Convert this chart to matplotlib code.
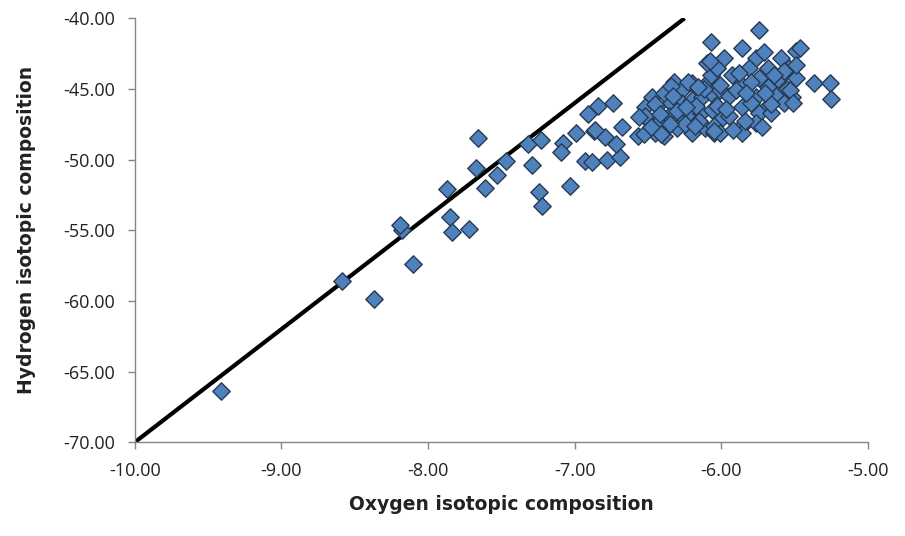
import matplotlib
matplotlib.use("Agg")
import matplotlib.pyplot as plt

# Oxygen (x) and Hydrogen (y) isotopic composition samples
oxygen = [
    -9.41, -8.59, -8.37, -8.10, -8.18, -8.19, -7.87, -7.85, -7.84, -7.72,
    -7.67, -7.66, -7.61, -7.53, -7.47, -7.32, -7.29, -7.23, -7.24, -7.22,
    -7.03, -7.08, -7.09, -6.99, -6.93, -6.88, -6.87, -6.79, -6.78, -6.69,
    -6.72, -6.91, -6.84, -6.74, -6.86, -6.68,
    # cluster
    -6.32, -6.47, -6.39, -6.26, -6.20, -6.09, -6.07, -6.03, -6.10, -6.52,
    -6.44, -6.34, -6.27, -6.20, -6.13, -6.07, -6.01, -6.50, -6.43, -6.36,
    -6.28, -6.22, -6.14, -6.06, -6.57, -6.45, -6.39, -6.30, -6.20, -6.11,
    -6.05, -6.00,
    -5.74, -6.07, -5.86, -5.49, -5.59, -5.76, -5.98, -5.81, -5.68, -5.54,
    -6.03, -5.93, -5.74, -5.61, -5.49, -6.01, -5.86, -5.68, -5.55, -5.95,
    -5.76, -5.63, -5.52, -6.03, -5.86, -5.68, -5.57, -5.95, -5.74, -5.66,
    -6.05, -5.86, -5.76, -6.01, -5.86,
    -5.46, -5.49, -5.37, -5.26, -5.25, -5.53, -5.51, -5.57,
    -6.08, -5.84, -6.05, -6.53, -6.41, -6.52, -6.45, -6.34, -6.23, -5.66,
    -6.17, -5.90, -5.80, -5.70, -6.15, -5.92, -5.80, -5.64, -6.25, -5.97,
    -5.83, -5.72, -6.30, -6.12, -5.88, -5.71,
    -6.48, -6.42, -6.35, -6.24, -6.18, -6.56, -6.33, -6.16,
]
hydrogen = [
    -66.4, -58.6, -59.9, -57.4, -55.0, -54.6, -52.1, -54.1, -55.1, -54.9,
    -50.6, -48.5, -52.0, -51.1, -50.1, -48.9, -50.4, -48.6, -52.3, -53.3,
    -51.9, -48.8, -49.5, -48.1, -50.1, -50.2, -48.0, -48.4, -50.0, -49.8,
    -48.9, -46.8, -46.2, -46.0, -47.9, -47.7,
    # cluster
    -44.5, -45.6, -45.3, -45.0, -44.6, -44.5, -44.0, -43.5, -43.2, -46.3,
    -46.2, -46.0, -46.0, -45.8, -45.6, -45.3, -45.1, -47.2, -47.4, -46.9,
    -47.1, -46.7, -46.7, -46.5, -48.3, -48.1, -48.3, -47.8, -48.1, -47.8,
    -48.1, -47.1,
    -40.85, -41.7, -42.1, -42.3, -42.8, -42.8, -42.8, -43.5, -43.5, -43.5,
    -43.5, -44.0, -44.2, -44.3, -44.2, -44.75, -44.75, -44.9, -45.0, -45.5,
    -45.6, -45.5, -45.6, -46.2, -46.3, -46.2, -46.0, -46.9, -46.7, -46.7,
    -47.6, -47.6, -47.4, -48.1, -48.1,
    -42.1, -43.3, -44.6, -44.6, -45.7, -45.1, -46.0, -43.7,
    -43.0, -47.3, -48.0, -48.2, -48.2, -46.9, -46.1, -44.8, -44.5, -46.1,
    -46.2, -45.1, -46.0, -45.3, -47.3, -47.9, -44.5, -44.0, -47.5, -46.4,
    -45.3, -47.7, -46.6, -45.0, -43.9, -42.4,
    -47.7, -46.8, -47.5, -46.3, -47.6, -47.0, -45.5, -44.9,
]

# Reference line (meteoric water line)
line_x = [-10.0, -6.25]
line_y = [-70.0, -40.0]

x_ticks = [-10, -9, -8, -7, -6, -5]
y_ticks = [-70, -65, -60, -55, -50, -45, -40]

fig = plt.figure(figsize=(9.05, 5.36), dpi=100)
ax = fig.add_axes([0.149, 0.175, 0.810, 0.791])

ax.plot(line_x, line_y, color="black", lw=3.0, solid_capstyle="butt", zorder=2)
ax.scatter(oxygen, hydrogen, marker="D", s=78, facecolor="#4F81BD",
           edgecolor="#263a52", linewidth=1.0, zorder=3, clip_on=False)

ax.set_xlim(-10, -5)
ax.set_ylim(-70, -40)
ax.set_xticks(x_ticks)
ax.set_yticks(y_ticks)
ax.set_xticklabels([f"{v:.2f}" for v in x_ticks], family="Open Sans")
ax.set_yticklabels([f"{v:.2f}" for v in y_ticks], family="Open Sans")

for s in ["top", "right"]:
    ax.spines[s].set_visible(False)
for s in ["left", "bottom"]:
    ax.spines[s].set_color("#868686")
    ax.spines[s].set_linewidth(1.0)

ax.tick_params(axis="both", direction="out", length=5, width=1.0,
               color="#868686", labelsize=13, labelcolor="#222222")
ax.tick_params(axis="x", pad=9)
ax.tick_params(axis="y", pad=9)

ax.set_xlabel("Oxygen isotopic composition", fontsize=13.5, fontweight="bold",
              color="#222222", labelpad=11)
ax.set_ylabel("Hydrogen isotopic composition", fontsize=13.5, fontweight="bold",
              color="#222222", labelpad=20)

fig.savefig("out.png", dpi=100)
